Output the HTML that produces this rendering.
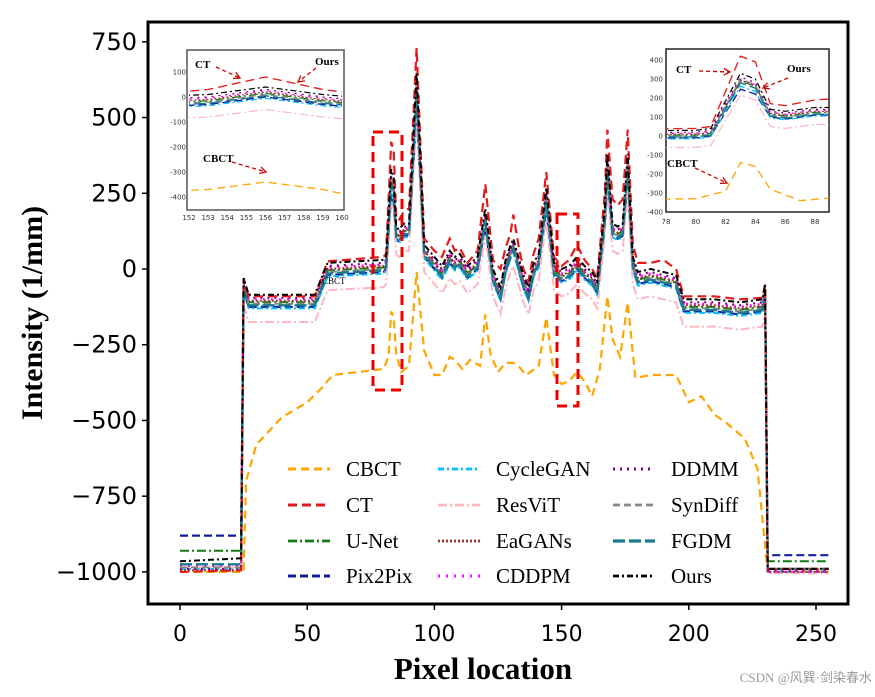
<!DOCTYPE html>
<html><head><meta charset="utf-8"><style>
body{margin:0;background:#fff;}
svg text{font-family:"Liberation Serif",serif;}
svg text.tick{font-family:"DejaVu Sans","Liberation Sans",sans-serif;}
</style></head><body>
<svg id="chart" width="875" height="692" xmlns="http://www.w3.org/2000/svg">
<rect width="875" height="692" fill="#fff"/>
<defs>
<clipPath id="mainClip"><rect x="149" y="23" width="698" height="580"/></clipPath>
<clipPath id="inL"><rect x="189" y="52" width="153" height="156"/></clipPath>
<clipPath id="inR"><rect x="666" y="49" width="163" height="163"/></clipPath>
</defs>
<g id="mainLines" clip-path="url(#mainClip)"></g>
<rect x="148" y="22" width="700" height="582" fill="none" stroke="#000" stroke-width="3"/>
<rect x="373" y="132" width="29" height="258" fill="none" stroke="#e00" stroke-width="3" stroke-dasharray="10,6"/>
<rect x="557" y="214" width="21" height="192" fill="none" stroke="#e00" stroke-width="3" stroke-dasharray="10,6"/>
<text x="322" y="284" font-size="9">CBCT</text>
<g id="axes"></g>
<g id="insetL">
<rect x="187" y="50" width="157" height="160" fill="#fff" stroke="#555" stroke-width="1.5"/>
<g id="inLLines" clip-path="url(#inL)"></g>
</g>
<g id="insetR">
<rect x="666" y="49" width="163" height="163" fill="#fff" stroke="#222" stroke-width="1.5"/>
<g id="inRLines" clip-path="url(#inR)"></g>
</g>
<g id="legend"></g>
<text x="42" y="313" font-size="30" font-weight="bold" text-anchor="middle" transform="rotate(-90 42 313)">Intensity (1/mm)</text>
<text x="483" y="679" font-size="31" font-weight="bold" text-anchor="middle">Pixel location</text>
<text x="872" y="682" font-size="13" fill="#999" text-anchor="end" font-family="Liberation Sans, Noto Sans CJK SC, sans-serif">CSDN @风巽·剑染春水</text>
</svg>
<script>
const xs   = [0,24,25,27,53,58,80,81,83,84,85,86,88,90,93,96,100,103,106,108,110,113,117,120,123,126,128,130,131,133,135,137,139,141,144,147,150,153,156,159,162,164,167,168,170,172,174,176,178,180,185,190,195,198,210,220,229,230,231,255];
const ctVals = [-1000,-995,-30,-90,-90,25,40,50,420,390,170,160,190,200,730,100,60,40,100,60,70,20,60,280,30,0,70,120,180,80,0,-40,50,100,320,40,10,30,80,30,0,-30,250,460,230,210,230,460,80,20,20,30,0,-90,-90,-100,-95,-50,-990,-990];
const oursVals = [-965,-955,-30,-85,-85,20,30,40,330,300,140,130,150,150,650,80,40,10,60,40,50,10,40,200,0,-60,30,80,100,40,-20,-60,20,50,270,20,0,10,40,10,-10,-40,200,380,150,140,150,380,40,-10,0,-10,-20,-100,-100,-110,-100,-50,-990,-990];
const cbctXs = [0,25,26,30,40,50,56,60,70,80,82,83,84,85,87,90,93,96,100,103,106,108,111,114,118,120,122,125,128,131,133,136,141,144,147,150,153,156,159,162,165,168,170,173,176,179,185,195,200,205,210,215,222,227,231,255];
const cbctVals = [-1000,-1000,-700,-580,-490,-440,-390,-350,-340,-330,-290,-140,-160,-280,-340,-320,-10,-270,-350,-350,-290,-300,-330,-300,-320,-150,-280,-340,-310,-310,-320,-350,-320,-160,-350,-380,-370,-340,-370,-420,-330,-90,-230,-290,-110,-360,-350,-350,-440,-420,-480,-510,-560,-660,-1000,-1000];
const methodNames = ["U-Net","Pix2Pix","CycleGAN","ResViT","EaGANs","CDDPM","DDMM","SynDiff","FGDM"];
const methodLeft  = [-930,-880,-990,-985,-995,-980,-990,-985,-975];
const methodRight = [-965,-945,-1000,-1005,-1000,-1000,-995,-990,-990];
const methodShift = [-25,-40,-45,-90,-20,-15,-10,-30,-35];
const methodPeak  = [0.95,0.85,0.92,0.9,0.95,0.95,0.97,1.0,0.95];
const legendNames = ["CBCT","CT","U-Net","Pix2Pix","CycleGAN","ResViT","EaGANs","CDDPM","DDMM","SynDiff","FGDM","Ours"];
const xTicks = [0,50,100,150,200,250];
const yTicks = [750,500,250,0,-250,-500,-750,-1000];
const inLxTicks=[152,153,154,155,156,157,158,159,160];
const inLyTicks=[100,0,-100,-200,-300,-400];
const inRxTicks=[78,80,82,84,86,88];
const inRyTicks=[400,300,200,100,0,-100,-200,-300,-400];

const styles = {
 "CBCT":["#FFA500","8,5",2.2],"CT":["#E41A1C","9,5",2.2],"U-Net":["#127a12","9,3,2,3",2],
 "Pix2Pix":["#1020a0","8,4",2.2],"CycleGAN":["#00BFFF","6,3,2,3",2],"ResViT":["#FFB6C1","9,3,2,3",2],
 "EaGANs":["#A0302a","2,2",2],"CDDPM":["#FF00FF","2,6",2.2],"DDMM":["#800080","2,5",2.2],
 "SynDiff":["#888888","7,4",2],"FGDM":["#1a7a8a","12,4",2.4],"Ours":["#000","6,3,2,3",2]
};
const NS="http://www.w3.org/2000/svg";
function mk(tag,attrs,parent){const e=document.createElementNS(NS,tag);for(const k in attrs)e.setAttribute(k,attrs[k]);parent.appendChild(e);return e;}
const X=v=>180+v*2.544, Y=v=>269-v*0.3029;
const LX=v=>189+(v-152)*153/8, LY=v=>97-v*0.25;
const RX=v=>666+(v-78)*14.9, RY=v=>136-v*0.19;

function methodSeries(i){
  return oursVals.map((v,j)=>{
    const x=xs[j];
    if(x<=24) return methodLeft[i];
    if(x>=231) return methodRight[i];
    const b=v+methodShift[i];
    return b>150? b*methodPeak[i]: b;
  });
}
const series=[["CBCT",cbctXs,cbctVals]];
methodNames.forEach((n,i)=>series.push([n,xs,methodSeries(i)]));
series.push(["CT",xs,ctVals]);series.push(["Ours",xs,oursVals]);

function drawAll(g,fx,fy,w){
  series.forEach(([n,sx,sv])=>{
    const st=styles[n];
    const p=mk("path",{d:sx.map((x,j)=>(j?"L":"M")+fx(x).toFixed(1)+","+fy(sv[j]).toFixed(1)).join(""),fill:"none",stroke:st[0],"stroke-dasharray":st[1],"stroke-width":st[2]*w},g);
    
    
  });
}
drawAll(document.getElementById("mainLines"),X,Y,1);
drawAll(document.getElementById("inLLines"),LX,LY,0.6);
drawAll(document.getElementById("inRLines"),RX,RY,0.6);

const ax=document.getElementById("axes");
xTicks.forEach(t=>{mk("line",{x1:X(t),x2:X(t),y1:604,y2:610,stroke:"#000","stroke-width":1.5},ax);
 const e=mk("text",{x:X(t),y:641,"font-size":22,"text-anchor":"middle","class":"tick"},ax);e.textContent=t;
 });
yTicks.forEach(t=>{mk("line",{x1:142,x2:148,y1:Y(t),y2:Y(t),stroke:"#000","stroke-width":1.5},ax);
 const e=mk("text",{x:137,y:Y(t)+8,"font-size":24,"text-anchor":"end","class":"tick"},ax);e.textContent=t.toString().replace("-","\u2212");
 });

function insetAxes(g,xt,yt,fx,fy,bottom,left){
  xt.forEach(t=>{const e=mk("text",{x:fx(t),y:bottom+10,"font-size":7,"text-anchor":"middle",fill:"#333","class":"tick"},g);e.textContent=t;
    });
  yt.forEach(t=>{const e=mk("text",{x:left-3,y:fy(t)+2.5,"font-size":7,"text-anchor":"end",fill:"#333","class":"tick"},g);e.textContent=t;
    });
}
const gL=document.getElementById("insetL"),gR=document.getElementById("insetR");
insetAxes(gL,inLxTicks,inLyTicks,LX,LY,210,189);
insetAxes(gR,inRxTicks,inRyTicks,RX,RY,214,666);
function ann(g,txt,tx,ty,x1,y1,x2,y2){
  const t=mk("text",{x:tx,y:ty,"font-size":11,"font-weight":"bold"},g);t.textContent=txt;
  
  mk("line",{x1,y1,x2,y2,stroke:"#c00","stroke-width":1.3,"stroke-dasharray":"4,3"},g);
  const a=Math.atan2(y2-y1,x2-x1),L=7;
  mk("path",{d:`M${x2-L*Math.cos(a-0.5)},${y2-L*Math.sin(a-0.5)}L${x2},${y2}L${x2-L*Math.cos(a+0.5)},${y2-L*Math.sin(a+0.5)}`,fill:"none",stroke:"#c00","stroke-width":1.3},g);
}
ann(gL,"CT",195,68,216,67,240,78);ann(gL,"Ours",315,65,316,68,298,82);ann(gL,"CBCT",203,162,232,162,266,172);
ann(gR,"CT",676,73,699,71,730,72);ann(gR,"Ours",787,72,788,78,763,88);ann(gR,"CBCT",667,167,695,168,727,183);

const lg=document.getElementById("legend");
const colX=[288,438,613],rowY=[469,505,541,576];
legendNames.forEach((n,i)=>{
  const c=Math.floor(i/4),r=i%4,st=styles[n];
  const gi=mk("g",{},lg);
  
  
  mk("line",{x1:colX[c],x2:colX[c]+42,y1:rowY[r],y2:rowY[r],stroke:st[0],"stroke-dasharray":st[1],"stroke-width":st[2]+0.8},gi);
  const t=mk("text",{x:colX[c]+58,y:rowY[r]+7,"font-size":21},gi);t.textContent=n;
});
</script>
</body></html>
